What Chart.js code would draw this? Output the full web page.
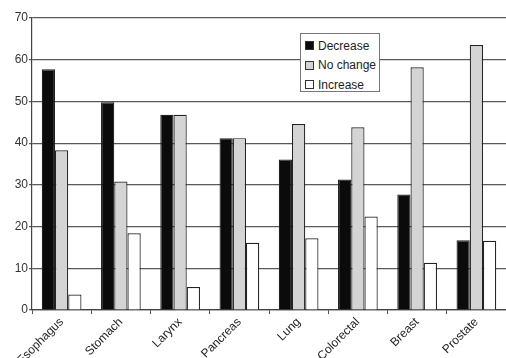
<!DOCTYPE html>
<html><head><meta charset="utf-8">
<script src="https://cdn.jsdelivr.net/npm/chart.js@4/dist/chart.umd.min.js"></script>
<style>
html,body{margin:0;padding:0;background:#fff;}
#wrap{position:relative;width:506px;height:358px;overflow:hidden;}
#legend{position:absolute;left:300px;top:33px;width:80px;height:59px;border:1px solid #777;background:#fff;font:12px "Liberation Sans",Arial,sans-serif;color:#222;box-sizing:border-box;padding:2px 0 0 4px;}
#legend div{height:19.5px;display:flex;align-items:center;}
#legend span.sw{display:inline-block;width:7px;height:7px;border:1px solid #333;margin-right:4px;}
</style></head>
<body><div id="wrap"><canvas id="c" width="506" height="358"></canvas><div id="legend"></div></div>
<script>
const categories = ["Esophagus","Stomach","Larynx","Pancreas","Lung","Colorectal","Breast","Prostate"];
const seriesNames = ["Decrease","No change","Increase"];
const decrease = [57.7, 49.8, 46.8, 41.2, 36.1, 31.3, 27.7, 16.7];
const noChange = [38.3, 30.8, 46.8, 41.2, 44.6, 43.8, 58.2, 63.5];
const increase = [3.7, 18.4, 5.5, 16.1, 17.2, 22.4, 11.3, 16.6];
const yTicks = [0,10,20,30,40,50,60,70];

const fills = ["#0b0b0b","#d4d4d4","#ffffff"];
const vals = [decrease, noChange, increase];
const leg = document.getElementById('legend');
seriesNames.forEach((n,i)=>{
  const d=document.createElement('div');
  d.innerHTML='<span class="sw" style="background:'+fills[i]+'"></span>'+n;
  leg.appendChild(d);
});
new Chart(document.getElementById('c'), {
  type:'bar',
  data:{labels:categories, datasets: seriesNames.map((n,i)=>({
    label:n, data:vals[i], backgroundColor:fills[i], borderColor:"#222", borderWidth:1.2,
    barPercentage:1.0, categoryPercentage:0.67
  }))},
  options:{
    responsive:false, animation:false,
    layout:{padding:{left:0,right:-2,top:18,bottom:0}},
    plugins:{legend:{display:false}, tooltip:{enabled:false}},
    scales:{
      x:{
        grid:{display:true, drawOnChartArea:false, drawTicks:true, tickLength:4, color:"#555", offset:true},
        border:{color:"#444", width:1.2},
        ticks:{minRotation:45, maxRotation:45, color:"#222", font:{family:"Liberation Sans", size:12}, padding:1},
        afterFit:(s)=>{s.paddingLeft=0; s.paddingRight=0; s.height=48;}
      },
      y:{
        min:0, max:70,
        afterBuildTicks:(s)=>{s.ticks=yTicks.map(v=>({value:v}));},
        afterFit:(s)=>{s.width=32;},
        grid:{color:"#5a5a5a", lineWidth:1.2, tickLength:3},
        border:{color:"#444", width:1.2},
        ticks:{color:"#333", font:{family:"Liberation Sans", size:12}, padding:1}
      }
    }
  }
});
</script></body></html>
